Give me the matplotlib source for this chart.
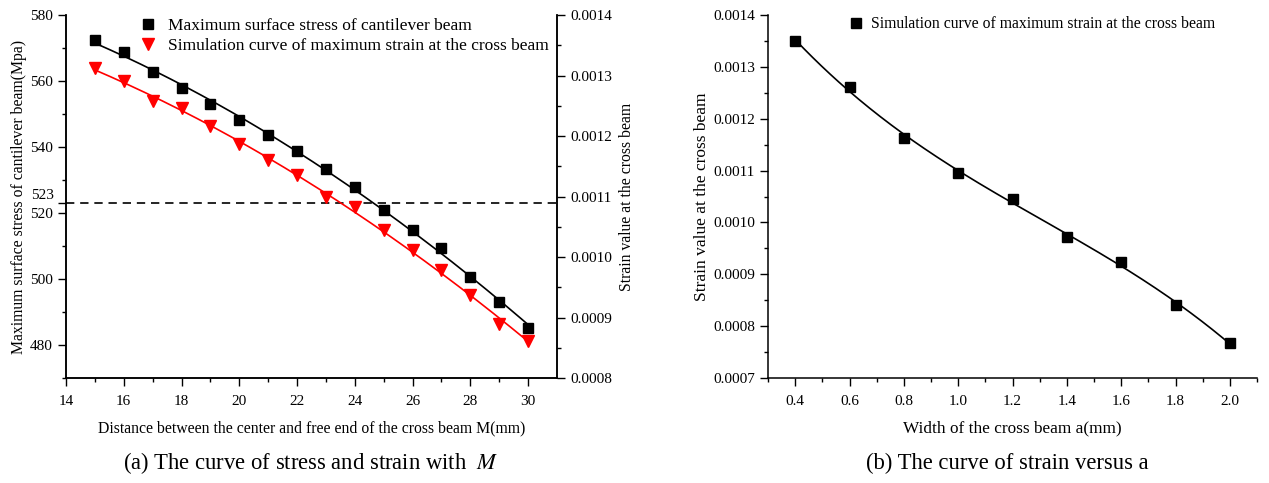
import numpy as np
import matplotlib
matplotlib.use('Agg')
import matplotlib.pyplot as plt
from matplotlib.ticker import MultipleLocator, FixedLocator, FormatStrFormatter, FuncFormatter

plt.rcParams['font.family'] = ['Liberation Serif', 'DejaVu Serif']
plt.rcParams['mathtext.fontset'] = 'stix'

# (a) stress and strain against distance M
dist_mm = [15, 16, 17, 18, 19, 20, 21, 22, 23, 24, 25, 26, 27, 28, 29, 30]
stress_mpa = [572.4, 568.8, 562.6, 557.8, 553.1, 548.2, 543.6, 538.8,
              533.4, 528.0, 520.9, 514.7, 509.3, 500.7, 493.0, 485.2]
strain_m = [0.001313, 0.001291, 0.001258, 0.001246, 0.001217, 0.001186, 0.001160, 0.001136,
            0.001099, 0.001082, 0.001044, 0.001011, 0.000978, 0.000938, 0.000890, 0.000861]
stress_limit = 523

# (b) strain against cross beam width a
width_mm = [0.4, 0.6, 0.8, 1.0, 1.2, 1.4, 1.6, 1.8, 2.0]
strain_a = [0.001350, 0.001261, 0.001163, 0.001096, 0.001046, 0.000972, 0.000923, 0.000840, 0.000768]

fig = plt.figure(figsize=(12.69, 4.83), dpi=100)
ax1 = fig.add_axes([66/1269, 1-378/483, (557-66)/1269, (378-15)/483])
ax2 = ax1.twinx()
ax3 = fig.add_axes([768/1269, 1-378/483, (1257-768)/1269, (378-15)/483])

tick_kw = dict(direction='out', labelsize=11, width=1, color='black')

# --- panel (a) ---
xs = np.linspace(15, 30, 200)
c1 = np.polyfit(dist_mm, stress_mpa, 2)
c2 = np.polyfit(dist_mm, strain_m, 2)
ax1.plot(xs, np.polyval(c1, xs), color='black', lw=1.2, zorder=2)
ax1.plot(dist_mm, stress_mpa, 's', color='black', ms=7, zorder=3)
ax1.axhline(stress_limit, color='black', lw=1.2, ls=(0, (5, 3.5)))
ax2.plot(xs, np.polyval(c2, xs), color='red', lw=1.2, zorder=2)
ax2.plot(dist_mm, strain_m, 'v', color='red', ms=8, zorder=3)

ax1.set_xlim(14, 31)
ax1.set_ylim(470, 580)
ax2.set_ylim(0.0008, 0.0014)
ax1.xaxis.set_major_locator(FixedLocator([14, 16, 18, 20, 22, 24, 26, 28, 30]))
ax1.xaxis.set_minor_locator(FixedLocator([15, 17, 19, 21, 23, 25, 27, 29]))
ax1.yaxis.set_major_locator(FixedLocator([480, 500, 520, stress_limit, 540, 560, 580]))
ax1.yaxis.set_minor_locator(FixedLocator([470, 490, 510, 530, 550, 570]))
# the 523 label is drawn separately, lifted clear of 520
ax1.yaxis.set_major_formatter(FuncFormatter(lambda v, p: '' if v == stress_limit else '%d' % v))
ax1.annotate(str(stress_limit), xy=(0, stress_limit), xycoords=('axes fraction', 'data'),
             xytext=(-8.5, 5.5), textcoords='offset points', ha='right', va='center', fontsize=11)
ax2.yaxis.set_major_locator(MultipleLocator(0.0001))
ax2.yaxis.set_minor_locator(MultipleLocator(0.00005))
ax2.yaxis.set_major_formatter(FormatStrFormatter('%.4f'))
for ax in (ax1, ax2):
    ax.tick_params(which='major', length=6, **tick_kw)
    ax.tick_params(which='minor', length=3, direction='out', width=1)
    ax.spines['top'].set_visible(False)
    for s in ax.spines.values():
        s.set_linewidth(1.1)
ax1.tick_params(axis='x', pad=6)
ax1.set_xlabel('Distance between the center and free end of the cross beam M(mm)', fontsize=11.3, labelpad=9)
ax1.set_ylabel('Maximum surface stress of cantilever beam(Mpa)', fontsize=11.3, labelpad=2)
ax2.set_ylabel('Strain value at the cross beam', fontsize=11.3, labelpad=5)

h1, = ax1.plot([], [], 's', color='black', ms=7)
h2, = ax1.plot([], [], 'v', color='red', ms=8)
ax1.legend([h1, h2], ['Maximum surface stress of cantilever beam',
                      'Simulation curve of maximum strain at the cross beam'],
           loc='upper left', bbox_to_anchor=(0.122, 1.035), frameon=False, fontsize=12.5,
           handlelength=0.8, handletextpad=0.75, labelspacing=0.2)

# --- panel (b) ---
xb = np.linspace(0.4, 2.0, 200)
c3 = np.polyfit(width_mm, strain_a, 3)
ax3.plot(xb, np.polyval(c3, xb), color='black', lw=1.2, zorder=2)
ax3.plot(width_mm, strain_a, 's', color='black', ms=7, zorder=3,
         label='Simulation curve of maximum strain at the cross beam')
ax3.set_xlim(0.3, 2.1)
ax3.set_ylim(0.0007, 0.0014)
ax3.xaxis.set_major_locator(FixedLocator([0.4, 0.6, 0.8, 1.0, 1.2, 1.4, 1.6, 1.8, 2.0]))
ax3.xaxis.set_minor_locator(FixedLocator([0.3, 0.5, 0.7, 0.9, 1.1, 1.3, 1.5, 1.7, 1.9, 2.1]))
ax3.xaxis.set_major_formatter(FormatStrFormatter('%.1f'))
ax3.yaxis.set_major_locator(MultipleLocator(0.0001))
ax3.yaxis.set_minor_locator(MultipleLocator(0.00005))
ax3.yaxis.set_major_formatter(FormatStrFormatter('%.4f'))
ax3.tick_params(which='major', length=6, **tick_kw)
ax3.tick_params(which='minor', length=3, direction='out', width=1)
ax3.tick_params(axis='x', pad=6)
ax3.spines['top'].set_visible(False)
ax3.spines['right'].set_visible(False)
for s in ax3.spines.values():
    s.set_linewidth(1.1)
ax3.set_xlabel('Width of the cross beam a(mm)', fontsize=12.4, labelpad=9)
ax3.set_ylabel('Strain value at the cross beam', fontsize=12.5, labelpad=2)
ax3.legend(loc='upper left', bbox_to_anchor=(0.139, 1.035), frameon=False, fontsize=11.3,
           handlelength=0.8, handletextpad=0.55)

# captions
fig.text(311/1269, 1-463/483, r'(a) The curve of stress and strain with  $M$', ha='center', va='center', fontsize=16.3)
fig.text(1007/1269, 1-463/483, '(b) The curve of strain versus a', ha='center', va='center', fontsize=16.3)

fig.savefig('out.png', dpi=100)
